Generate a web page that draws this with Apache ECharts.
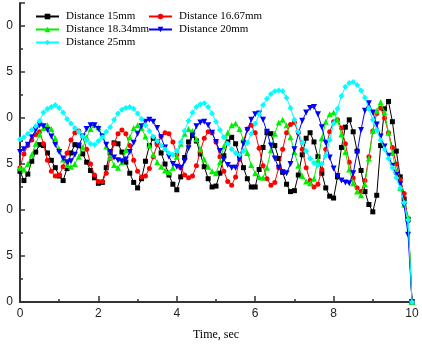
<!DOCTYPE html>
<html>
<head>
<meta charset="utf-8">
<script src="https://cdn.jsdelivr.net/npm/echarts@6/dist/echarts.min.js"></script>
<style>
html,body{margin:0;padding:0;background:#fff;}
#chart{width:422px;height:349px;}
</style>
</head>
<body>
<div id="chart"></div>
<script>
// time axis: 0.0 .. 10.0 s in 0.1 s steps
const times = [];
for (let i = 0; i <= 100; i++) times.push((i / 10).toFixed(1));

const seriesNames = ["Distance 15mm", "Distance 16.67mm", "Distance 18.34mm", "Distance 20mm", "Distance 25mm"];

const d15 = [14.2,13.2,13.9,15.3,16.3,17.1,17.0,16.2,15.4,14.6,13.7,13.2,14.5,16.2,17.1,17.0,16.1,15.2,14.3,13.5,
12.9,13.0,14.6,16.2,17.3,17.2,16.3,15.2,14.0,13.0,12.4,13.4,15.3,17.0,17.8,17.4,16.2,15.0,13.8,12.8,
12.2,13.6,15.7,17.4,18.1,17.5,16.1,14.7,13.4,12.5,12.6,14.0,15.9,17.4,17.9,17.2,15.9,14.6,13.4,12.5,
12.5,14.4,16.8,18.4,18.3,17.0,15.6,14.1,12.8,12.0,12.1,13.8,16.0,17.8,18.4,17.4,15.8,14.0,12.4,11.5,
11.3,13.6,16.8,19.0,19.8,18.5,16.4,14.3,12.0,10.6,9.8,11.6,17.0,21.0,21.8,19.6,16.4,13.6,11.2,9.0,0];

const d1667 = [14.6,16.1,17.0,17.6,18.2,18.5,17.2,15.4,14.2,13.7,13.8,14.7,16.2,17.6,18.4,18.6,18.0,16.6,15.0,13.8,
13.1,13.1,14.0,15.6,17.2,18.3,18.7,18.3,17.0,15.4,14.2,13.6,13.7,14.5,15.8,17.1,18.0,18.4,18.3,17.4,
16.0,14.6,13.8,13.5,13.7,14.8,16.4,17.8,18.5,18.4,17.4,15.8,14.2,13.1,12.7,13.6,15.5,17.5,18.8,19.2,
18.4,16.7,14.8,13.4,12.7,13.0,14.6,16.6,18.4,19.3,19.5,18.4,16.6,14.6,13.2,12.5,12.8,14.4,16.6,18.5,
19.6,19.8,18.9,17.2,15.2,13.5,12.4,12.0,13.2,15.8,18.6,20.5,21.1,20.0,18.4,16.8,15.0,13.3,11.8,8.8,0];

const d1834 = [14.6,14.4,15.0,16.0,17.2,18.2,18.9,19.2,18.8,17.8,16.6,15.5,14.9,14.7,15.0,15.8,16.8,17.9,18.8,19.2,
19.0,18.1,16.9,15.7,14.9,14.6,15.2,16.5,17.9,18.9,19.2,18.9,18.0,17.0,16.0,15.2,14.7,14.3,14.1,14.6,
15.8,17.2,18.3,18.8,18.6,17.7,16.6,15.5,14.7,14.2,14.0,15.2,16.9,18.4,19.2,19.4,18.8,17.6,16.2,14.9,
14.0,13.6,13.5,14.6,16.5,18.3,19.5,19.8,19.2,17.9,16.3,14.8,13.7,13.1,12.9,13.4,15.4,17.8,19.6,20.4,
20.6,19.8,18.2,16.3,14.4,12.9,12.0,11.6,12.8,15.6,18.6,20.8,21.7,20.6,18.4,16.2,14.2,12.4,10.6,9.2,0];

const d20 = [16.3,16.6,17.1,17.9,18.7,19.2,19.1,18.7,18.0,17.1,16.3,15.6,15.2,15.3,16.0,17.0,18.0,18.8,19.2,19.2,
18.8,18.0,17.1,16.3,15.7,15.4,15.3,15.5,16.3,17.3,18.3,19.1,19.6,19.8,19.6,18.9,17.9,16.8,15.8,15.0,
14.7,14.6,15.3,16.7,18.1,19.1,19.5,19.6,19.2,18.4,17.4,16.4,15.5,14.9,14.6,14.6,15.6,17.2,18.7,19.8,
20.4,20.5,19.8,18.5,17.0,15.6,14.6,14.1,14.0,15.0,16.6,18.3,19.7,20.6,21.1,21.2,20.4,19.0,17.3,15.7,
14.5,13.7,13.2,13.0,12.9,14.0,16.2,18.7,20.8,21.6,20.6,19.3,18.0,16.9,15.9,14.8,13.8,12.8,10.5,7.3,0];

const d25 = [17.7,17.9,18.3,18.7,19.1,19.7,20.6,21.0,21.2,21.4,21.1,20.6,19.9,19.4,18.9,18.5,18.0,17.6,17.2,17.1,
17.5,17.9,18.5,19.0,19.8,20.5,20.9,21.1,21.2,21.0,20.5,19.9,19.2,18.6,18.0,17.5,17.0,16.6,16.2,16.0,
16.4,17.4,18.6,19.7,20.6,21.2,21.5,21.6,21.2,20.5,19.6,18.7,17.9,17.2,16.6,16.2,16.0,16.4,17.3,18.3,
19.4,20.4,21.4,22.1,22.6,22.9,23.0,22.9,22.2,21.1,19.8,18.5,17.3,16.4,15.6,15.1,14.9,15.0,15.9,17.6,
19.4,21.0,22.4,23.4,23.8,23.9,23.6,23.0,22.2,21.0,19.8,18.7,17.6,16.6,15.6,14.6,13.5,12.4,10.8,8.9,0];

const xTicks = [0, 2, 4, 6, 8, 10];

const seriesData = [d15, d1667, d1834, d20, d25];
const colors = ["#000000", "#ff0000", "#00f000", "#0000ff", "#00ffff"];
const symbols = ["rect", "circle", "triangle", "path://M0,0L2,0L1,2Z", "diamond"];
const symSizes = [5, 5, 6, 6, 6];

const chart = echarts.init(document.getElementById('chart'), null, {renderer: 'canvas'});

const series = seriesNames.map((n, k) => ({
  name: n,
  type: 'line',
  data: times.map((t, i) => [Number(t), seriesData[k][i]]),
  symbol: symbols[k],
  symbolSize: symSizes[k],
  showSymbol: true,
  lineStyle: {color: colors[k], width: 1},
  itemStyle: {color: colors[k]},
  animation: false,
  z: 2 + k
}));

const legendPos = [[35, 11], [148, 11], [35, 24], [148, 24], [35, 37]];
const legends = seriesNames.map((n, k) => ({
  data: [n],
  left: legendPos[k][0],
  top: legendPos[k][1],
  itemWidth: 23,
  itemHeight: 7,
  itemGap: 4,
  textStyle: {fontFamily: 'Liberation Serif', fontSize: 11, color: '#000', padding: [0, 0, 0, 2]},
  padding: 0
}));

chart.setOption({
  backgroundColor: '#fff',
  animation: false,
  color: colors,
  legend: legends,
  grid: {left: 20, right: 10, top: 3, bottom: 47},
  xAxis: {
    type: 'value',
    min: xTicks[0], max: xTicks[xTicks.length - 1], interval: 2,
    name: 'Time, sec',
    nameLocation: 'middle',
    nameGap: 27,
    nameTextStyle: {fontFamily: 'Liberation Serif', fontSize: 12, color: '#000'},
    axisLine: {lineStyle: {color: '#333', width: 2}},
    axisTick: {inside: true, length: 6, lineStyle: {color: '#333', width: 1.5}},
    minorTick: {show: true, splitNumber: 2, length: 3, lineStyle: {color: '#333', width: 1.5}},
    axisLabel: {fontFamily: 'Liberation Sans', fontSize: 12, color: '#222', margin: 6},
    splitLine: {show: false}
  },
  yAxis: {
    type: 'value',
    min: 0, max: 32.5, interval: 5,
    axisLine: {show: true, lineStyle: {color: '#333', width: 2}},
    axisTick: {show: true, inside: true, length: 5, lineStyle: {color: '#333', width: 1.5}},
    minorTick: {show: true, splitNumber: 2, length: 3, lineStyle: {color: '#333', width: 1.5}},
    axisLabel: {
      fontFamily: 'Liberation Sans', fontSize: 12, color: '#222', margin: 7,
      showMaxLabel: false,
      formatter: v => String(Math.round(v) % 10)
    },
    splitLine: {show: false}
  },
  series: series
});
</script>
</body>
</html>
